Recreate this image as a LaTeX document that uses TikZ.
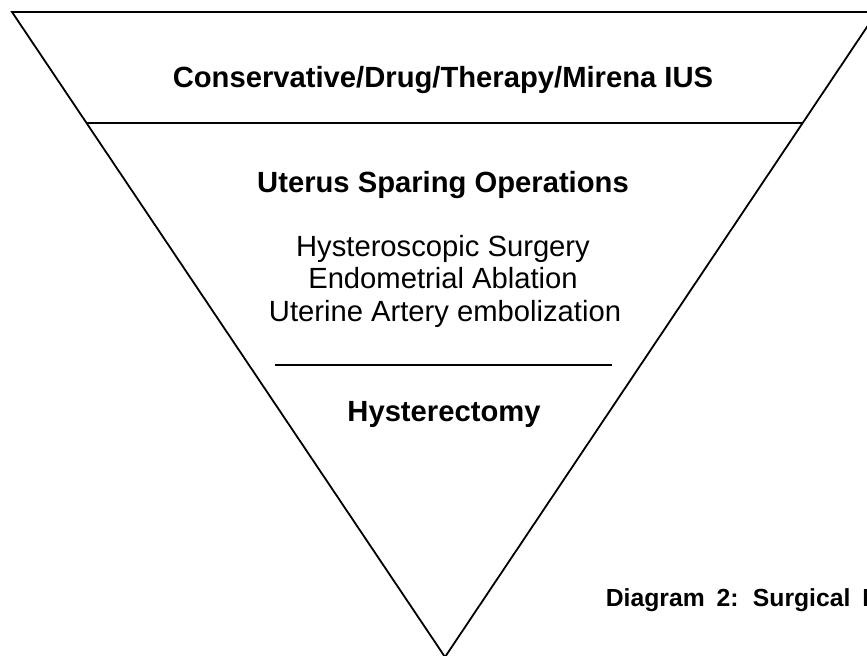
\documentclass[tikz,border=0pt]{standalone}
\usepackage{fontspec}
\setmainfont{Liberation Sans}
\usetikzlibrary{calc}

\newcommand{\widespace}{\spaceskip 6pt\relax}

\tikzset{
	level/.style={font=\bfseries\fontsize{14.6}{17}\selectfont, anchor=base, inner sep=0pt},
	option/.style={font=\fontsize{14.6}{17}\selectfont, anchor=base, inner sep=0pt},
	caption/.style={font={\bfseries\fontsize{12.35}{14}\selectfont\widespace}, anchor=base west, inner sep=0pt}
}

\begin{document}
\begin{tikzpicture}[x=0.5pt, y=-0.5pt, line width=0.9pt]
		\useasboundingbox (0, 0) rectangle (867, 656);
		\clip (0, 0) rectangle (867, 656);
		\coordinate (L) at (12, 12);
		\coordinate (R) at (877, 12);
		\coordinate (A) at (445, 657);
		\draw (L) -- (R) -- (A) -- cycle;
		\draw ($(L)!0.1721!(A)$) -- ($(R)!0.1721!(A)$);
		\draw (275, 365) coordinate (sl) -- (612, 365) coordinate (sr);

		\node[level] (conservative) at (443, 88) {Conservative/Drug/Therapy/Mirena IUS};
		\node[level] (sparing) at (443, 193) {Uterus Sparing Operations};
		\node[option] (hysteroscopic) at (443, 257) {Hysteroscopic Surgery};
		\node[option] (ablation) at (443, 289) {Endometrial Ablation};
		\node[option] (embolization) at (445, 322) {Uterine Artery embolization};
		\node[level] (hysterectomy) at (444, 422) {Hysterectomy};

		\node[caption] (diagram) at (605, 607) {Diagram 2: Surgical M};
\end{tikzpicture}
\end{document}
